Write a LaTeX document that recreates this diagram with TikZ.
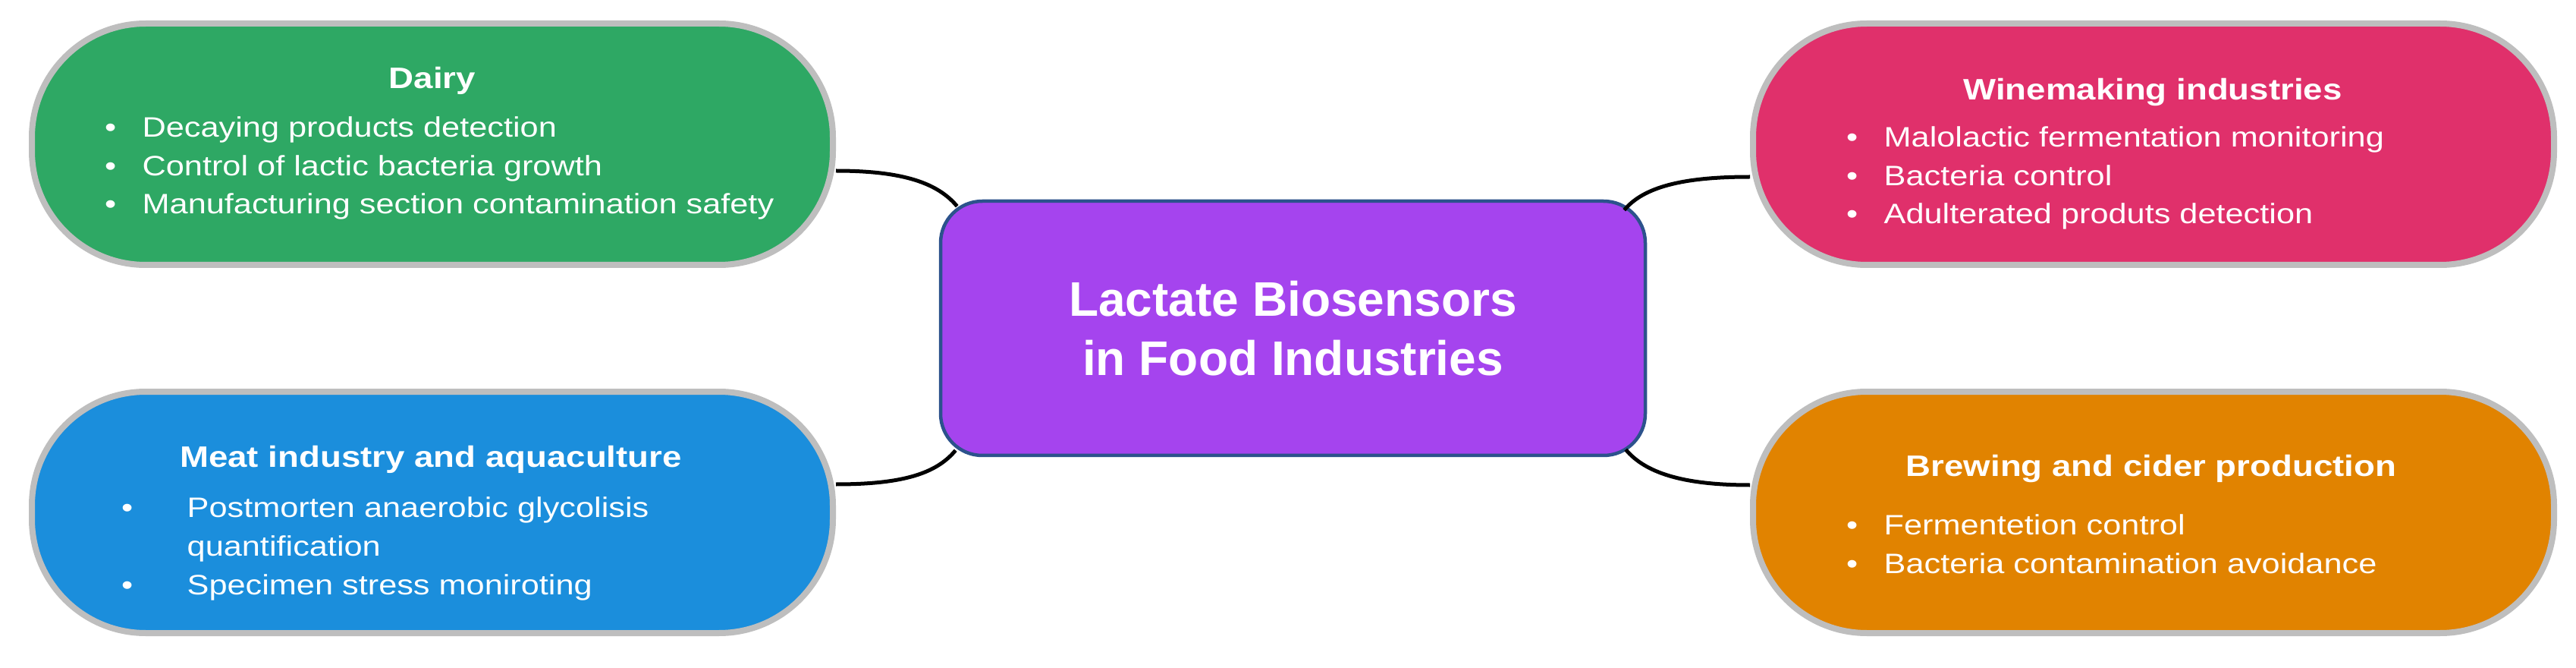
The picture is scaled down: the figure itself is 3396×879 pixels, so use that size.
\documentclass[tikz,border=0pt]{standalone}
\usepackage{fontspec}
\setmainfont{Liberation Sans}
\newfontfamily\widesans[FakeStretch=1.17]{Liberation Sans}

\definecolor{fig-color-dairy}{RGB}{ 46, 168, 100}
\definecolor{fig-color-meat}{RGB}{  27, 142, 220}
\definecolor{fig-color-wine}{RGB}{ 224,  48, 107}
\definecolor{fig-color-brew}{RGB}{ 225, 131,   0}
\definecolor{fig-color-centre}{RGB}{165, 68, 238}
\definecolor{fig-color-edge}{RGB}{  44,  82, 140}
\definecolor{fig-color-rim}{RGB}{  190, 190, 190}

\newcommand{\bul}[2]{\llap{\textbullet\hspace{#1}}#2}

\begin{document}
\begin{tikzpicture}[x=0.1mm, y=0.1mm,
    area/.style={draw=fig-color-rim, line width=0.8mm, rounded corners=15mm,
      minimum width=105.6mm, minimum height=31.8mm},
    head/.style={anchor=base, text=white, inner sep=0pt,
      font=\widesans\bfseries\fontsize{3.9mm}{4.6mm}\selectfont},
    items/.style={anchor=base west, align=left, text=white, inner sep=0pt,
      font=\widesans\fontsize{3.7mm}{5.1mm}\selectfont},
    link/.style={line width=0.5mm}]
    \useasboundingbox[fill=white] (0,0) rectangle (3396,879);

    \node[area, fill=fig-color-dairy] (dairy) at (570,689) {};
    \node[head] (dairy-head) at (570,762) {Dairy};
    \node[items] (dairy-list) at (187,597) {\bul{3.45mm}{Decaying products detection}\\
      \bul{3.45mm}{Control of lactic bacteria growth}\\
      \bul{3.45mm}{Manufacturing section contamination safety}};

    \node[area, fill=fig-color-meat] (meat) at (570,204) {};
    \node[head] (meat-head) at (568,264) {Meat industry and aquaculture};
    \node[items] (meat-list) at (246,96) {\bul{7.15mm}{Postmorten anaerobic glycolisis}\\
      quantification\\
      \bul{7.15mm}{Specimen stress moniroting}};

    \node[area, fill=fig-color-wine] (wine) at (2839,689) {};
    \node[head] (wine-head) at (2838,747) {Winemaking industries};
    \node[items] (wine-list) at (2483,584) {\bul{3.45mm}{Malolactic fermentation monitoring}\\
      \bul{3.45mm}{Bacteria control}\\
      \bul{3.45mm}{Adulterated produts detection}};

    \node[area, fill=fig-color-brew] (brew) at (2839,204) {};
    \node[head] (brew-head) at (2836,252) {Brewing and cider production};
    \node[items] (brew-list) at (2483,124) {\bul{3.45mm}{Fermentetion control}\\
      \bul{3.45mm}{Bacteria contamination avoidance}};

    \node[draw=fig-color-edge, fill=fig-color-centre, line width=0.45mm, rounded corners=5.5mm,
      minimum width=92.9mm, minimum height=33.5mm, align=center, text=white,
      font=\bfseries\fontsize{6.4mm}{7.8mm}\selectfont] (lactate) at (1704.5,446.5)
      {Lactate Biosensors\\in Food Industries};

    \draw[link] ([yshift=-3.5mm]dairy.east) .. controls +(9mm,0) and +(-2.5mm,3mm) .. ([shift={(2.4mm,-0.9mm)}]lactate.north west);
    \draw[link] ([yshift=3.7mm]meat.east) .. controls +(9mm,0) and +(-2.5mm,-3mm) .. ([shift={(2.2mm,0.9mm)}]lactate.south west);
    \draw[link] ([yshift=-4.3mm]wine.west) .. controls +(-9mm,0) and +(2.5mm,3mm) .. ([shift={(-3mm,-1.4mm)}]lactate.north east);
    \draw[link] ([yshift=3.6mm]brew.west) .. controls +(-9mm,0) and +(2.5mm,-3mm) .. ([shift={(-2.8mm,1mm)}]lactate.south east);
\end{tikzpicture}
\end{document}
